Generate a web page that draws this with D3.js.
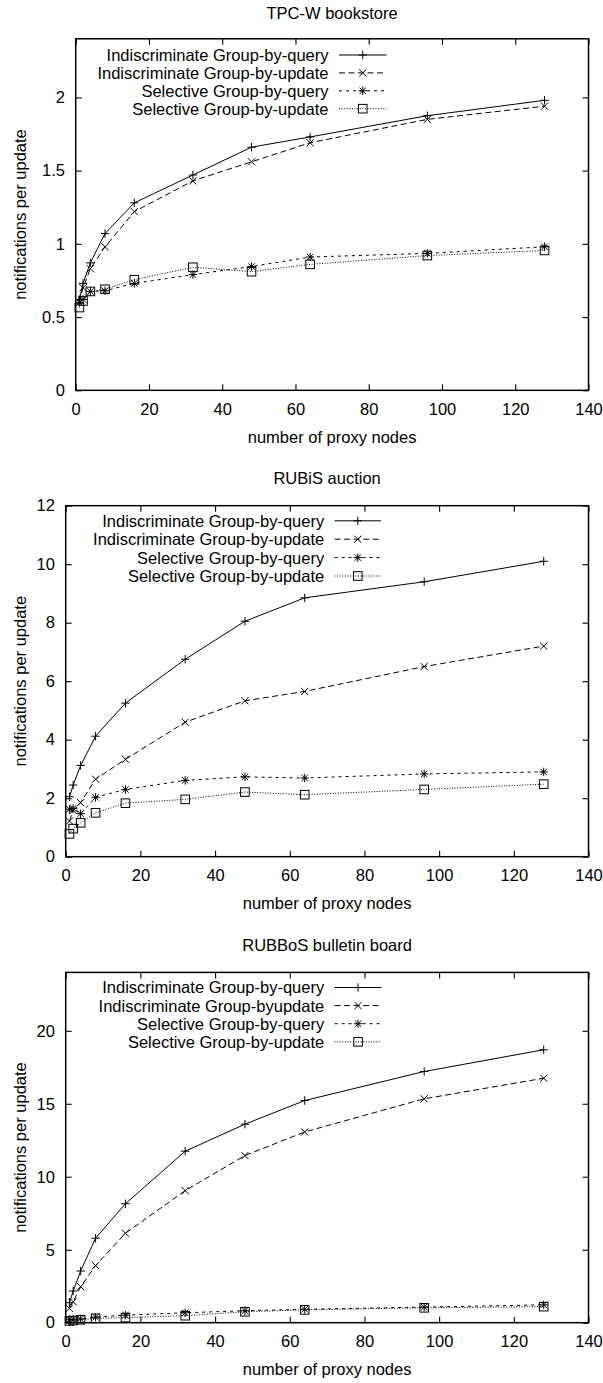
<!DOCTYPE html>
<html>
<head>
<meta charset="utf-8">
<script src="https://cdn.jsdelivr.net/npm/d3@7/dist/d3.min.js"></script>
<style>
  html, body { margin: 0; padding: 0; background: #fff; }
  svg { display: block; }
  text { font-family: "Liberation Sans", Arial, Helvetica, sans-serif; fill: #000; }
</style>
</head>
<body>
<svg id="chart" width="603" height="1383"></svg>
<script>
// ---------------- data ----------------
const proxyNodes = [1, 2, 4, 8, 16, 32, 48, 64, 96, 128];

const seriesNames = [
  "Indiscriminate Group-by-query",
  "Indiscriminate Group-by-update",
  "Selective Group-by-query",
  "Selective Group-by-update"
];
const seriesNamesRubbos = [
  "Indiscriminate Group-by-query",
  "Indiscriminate Group-byupdate",
  "Selective Group-by-query",
  "Selective Group-by-update"
];

// TPC-W bookstore
const tpcwIndiscQuery  = [0.62, 0.73, 0.87, 1.07, 1.28, 1.47, 1.66, 1.73, 1.875, 1.98];
const tpcwIndiscUpdate = [0.60, 0.70, 0.83, 0.98, 1.22, 1.43, 1.56, 1.69, 1.85, 1.94];
const tpcwSelQuery     = [0.60, 0.62, 0.675, 0.68, 0.73, 0.79, 0.845, 0.91, 0.935, 0.98];
const tpcwSelUpdate    = [0.565, 0.61, 0.675, 0.69, 0.755, 0.84, 0.81, 0.86, 0.92, 0.955];

// RUBiS auction
const rubisIndiscQuery  = [2.05, 2.45, 3.12, 4.12, 5.25, 6.75, 8.05, 8.85, 9.4, 10.1];
const rubisIndiscUpdate = [1.22, 1.58, 1.85, 2.65, 3.33, 4.6, 5.33, 5.65, 6.5, 7.2];
const rubisSelQuery     = [1.62, 1.65, 1.47, 2.03, 2.3, 2.61, 2.73, 2.69, 2.83, 2.9];
const rubisSelUpdate    = [0.78, 0.96, 1.16, 1.5, 1.83, 1.96, 2.21, 2.12, 2.3, 2.48];

// RUBBoS bulletin board
const rubbosIndiscQuery  = [1.37, 2.17, 3.54, 5.79, 8.15, 11.75, 13.6, 15.22, 17.21, 18.7];
const rubbosIndiscUpdate = [0.98, 1.44, 2.47, 3.91, 6.13, 9.05, 11.45, 13.07, 15.34, 16.75];
const rubbosSelQuery     = [0.2, 0.22, 0.26, 0.38, 0.52, 0.68, 0.82, 0.92, 1.07, 1.22];
const rubbosSelUpdate    = [0.12, 0.15, 0.2, 0.3, 0.35, 0.48, 0.75, 0.88, 1.02, 1.1];

const xTicks = [0, 20, 40, 60, 80, 100, 120, 140];
const tpcwYTicks = [0, 0.5, 1, 1.5, 2];
const rubisYTicks = [0, 2, 4, 6, 8, 10, 12];
const rubbosYTicks = [0, 5, 10, 15, 20];

const xLabel = "number of proxy nodes";
const yLabel = "notifications per update";

// ---------------- layout / style ----------------
const FONT = 16.5;
const dashes = [null, "6,3.5", "3,4", "1,1.6"];
const markers = ["plus", "cross", "star", "square"];

const panels = [
  { title: "TPC-W bookstore", names: seriesNames,
    series: [tpcwIndiscQuery, tpcwIndiscUpdate, tpcwSelQuery, tpcwSelUpdate],
    yMax: 2.4, yTicks: tpcwYTicks, yFmt: d => String(d),
    left: 75.7, right: 588.5, top: 38.8, bottom: 390.3,
    titleY: 13.5, keyTextRight: 328.5, keyLine: [339, 386.5], keyY0: 55, keyDy: 17.9 },
  { title: "RUBiS auction", names: seriesNames,
    series: [rubisIndiscQuery, rubisIndiscUpdate, rubisSelQuery, rubisSelUpdate],
    yMax: 12, yTicks: rubisYTicks, yFmt: d => String(d),
    left: 65.7, right: 588.5, top: 505.7, bottom: 856.7,
    titleY: 478.5, keyTextRight: 324.2, keyLine: [334.6, 381], keyY0: 520.8, keyDy: 18.4 },
  { title: "RUBBoS bulletin board", names: seriesNamesRubbos,
    series: [rubbosIndiscQuery, rubbosIndiscUpdate, rubbosSelQuery, rubbosSelUpdate],
    yMax: 24, yTicks: rubbosYTicks, yFmt: d => String(d),
    left: 65.7, right: 588.5, top: 972.4, bottom: 1322.7,
    titleY: 945, keyTextRight: 324.2, keyLine: [334.6, 381.5], keyY0: 987.5, keyDy: 18.1 }
];

const svg = d3.select("#chart");

function drawMarker(g, type, cx, cy) {
  const s = 4.2;
  if (type === "plus" || type === "star") {
    g.append("line").attr("x1", cx - s).attr("x2", cx + s).attr("y1", cy).attr("y2", cy);
    g.append("line").attr("x1", cx).attr("x2", cx).attr("y1", cy - s).attr("y2", cy + s);
  }
  if (type === "cross" || type === "star") {
    const t = type === "star" ? 3.2 : 3.6;
    g.append("line").attr("x1", cx - t).attr("x2", cx + t).attr("y1", cy - t).attr("y2", cy + t);
    g.append("line").attr("x1", cx - t).attr("x2", cx + t).attr("y1", cy + t).attr("y2", cy - t);
  }
  if (type === "square") {
    const q = 4.3;
    g.append("rect").attr("x", cx - q).attr("y", cy - q).attr("width", 2 * q).attr("height", 2 * q)
      .attr("fill", "none");
  }
}

panels.forEach(p => {
  const x = d3.scaleLinear().domain([0, 140]).range([p.left, p.right]);
  const y = d3.scaleLinear().domain([0, p.yMax]).range([p.bottom, p.top]);
  const g = svg.append("g");

  // axes (ticks inward, mirrored)
  const ax = [
    { a: d3.axisBottom(x).tickValues(xTicks).tickFormat(d => d).tickSize(-6).tickPadding(12.8), t: `translate(0,${p.bottom})` },
    { a: d3.axisTop(x).tickValues(xTicks).tickFormat("").tickSize(-6), t: `translate(0,${p.top})` },
    { a: d3.axisLeft(y).tickValues(p.yTicks).tickFormat(p.yFmt).tickSize(-6).tickPadding(10.8), t: `translate(${p.left},0)` },
    { a: d3.axisRight(y).tickValues(p.yTicks).tickFormat("").tickSize(-6), t: `translate(${p.right},0)` }
  ];
  ax.forEach(o => {
    const ag = g.append("g").attr("transform", o.t).call(o.a);
    ag.select(".domain").remove();
    ag.selectAll("line").attr("stroke", "#000").attr("stroke-width", 1.1);
    ag.selectAll("text").attr("font-size", FONT).attr("font-family", '"Liberation Sans", Arial, sans-serif').attr("fill", "#000");
  });

  // frame
  g.append("rect").attr("x", p.left).attr("y", p.top)
    .attr("width", p.right - p.left).attr("height", p.bottom - p.top)
    .attr("fill", "none").attr("stroke", "#000").attr("stroke-width", 1.5);

  // title & labels
  const cx = (p.left + p.right) / 2;
  g.append("text").attr("x", cx).attr("y", p.titleY).attr("dy", "0.36em")
    .attr("text-anchor", "middle").attr("font-size", FONT).text(p.title);
  g.append("text").attr("x", cx).attr("y", p.bottom + 46.5).attr("dy", "0.36em")
    .attr("text-anchor", "middle").attr("font-size", FONT).text(xLabel);
  g.append("text").attr("transform", `translate(26,${(p.top + p.bottom) / 2}) rotate(-90)`)
    .attr("text-anchor", "middle").attr("font-size", FONT).text(yLabel);

  // series
  const line = d3.line().x(d => x(d[0])).y(d => y(d[1]));
  p.series.forEach((vals, i) => {
    const pts = proxyNodes.map((n, k) => [n, vals[k]]);
    const path = g.append("path").datum(pts).attr("d", line)
      .attr("fill", "none").attr("stroke", "#000").attr("stroke-width", 1);
    if (dashes[i]) path.attr("stroke-dasharray", dashes[i]);
    const mg = g.append("g").attr("stroke", "#000").attr("stroke-width", 1);
    pts.forEach(d => drawMarker(mg, markers[i], x(d[0]), y(d[1])));
  });

  // legend
  p.names.forEach((name, i) => {
    const ly = p.keyY0 + i * p.keyDy;
    g.append("text").attr("x", p.keyTextRight).attr("y", ly).attr("dy", "0.36em")
      .attr("text-anchor", "end").attr("font-size", FONT).text(name);
    const l = g.append("line").attr("x1", p.keyLine[0]).attr("x2", p.keyLine[1])
      .attr("y1", ly).attr("y2", ly).attr("stroke", "#000").attr("stroke-width", 1);
    if (dashes[i]) l.attr("stroke-dasharray", dashes[i]);
    const mg = g.append("g").attr("stroke", "#000").attr("stroke-width", 1);
    drawMarker(mg, markers[i], (p.keyLine[0] + p.keyLine[1]) / 2, ly);
  });
});
</script>
</body>
</html>
